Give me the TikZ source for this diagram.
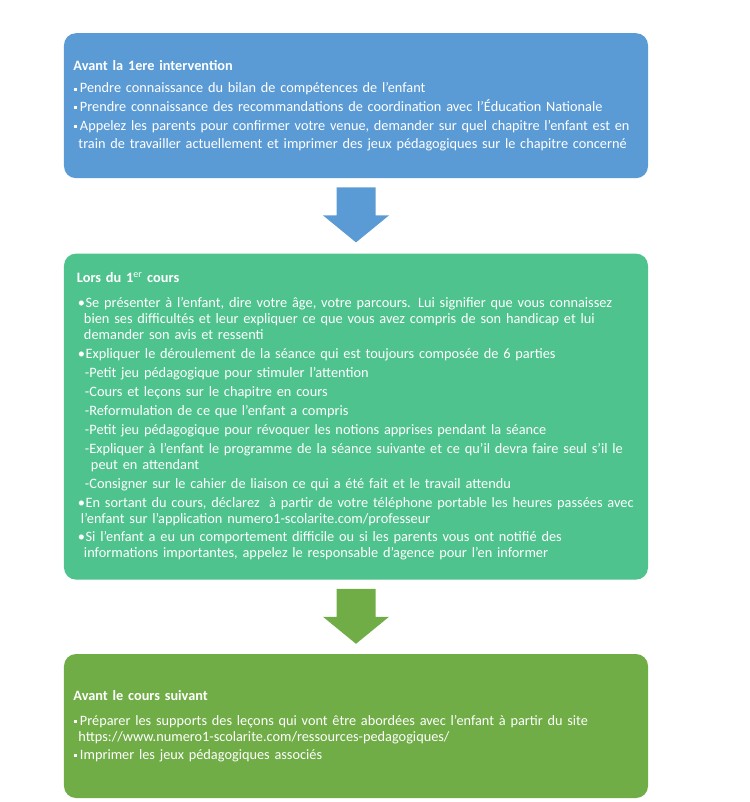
\documentclass[tikz,border=0pt]{standalone}
\usepackage{fontspec}
\setmainfont{Carlito}
\usetikzlibrary{calc,positioning}
\definecolor{bleu}{HTML}{5B9BD5}
\definecolor{vert}{HTML}{4FC38E}
\definecolor{olive}{HTML}{70AD47}
\newcommand{\carre}{\raisebox{2.4bp}{\rule{3bp}{3bp}}}
\newcommand{\pcarre}[1]{\par\hangindent=5bp\hangafter=1\noindent\hspace*{1bp}\carre\hspace{2.5bp}#1\par}
\newcommand{\ppuce}[2][7bp]{\par\hangindent=#1\hangafter=1\noindent\hspace*{1bp}•\hspace{0.5bp}#2\par}
\newcommand{\ptiret}[1]{\par\hangindent=14bp\hangafter=1\noindent\hspace*{8bp}-#1\par}
\tikzset{
 etape/.style={rounded corners=12bp, text=white, minimum width=584bp,
  inner ysep=0bp, align=left},
}
\begin{document}
\begin{tikzpicture}[x=1bp,y=-1bp]
 \useasboundingbox (0,0) rectangle (750,802);
 \node[etape, fill=bleu, anchor=north, minimum height=145bp,
  text width=565bp, inner xsep=9.5bp,
  font=\fontsize{14.3bp}{17.8bp}\selectfont] (avant) at (356,33) {%
  {\bfseries Avant la 1ere intervention}\par\vspace{3.5bp}
  \setlength{\parskip}{1bp}%
  \pcarre{Pendre connaissance du bilan de compétences de l’enfant}
  \pcarre{Prendre connaissance des recommandations de coordination avec l’Éducation Nationale}
  \pcarre{Appelez les parents pour confirmer votre venue, demander sur quel chapitre l'enfant est en\break
  train de travailler actuellement et imprimer des jeux pédagogiques sur le chapitre concerné}};
 \node[etape, fill=vert, minimum height=326bp, below=75bp of avant,
  text width=558bp, inner xsep=13bp,
  font=\fontsize{14.35bp}{16bp}\selectfont] (lors) {%
  {\bfseries Lors du 1\textsuperscript{\mdseries er} cours}\par\vspace{6bp}
  \setlength{\parskip}{2.9bp}%
  \ppuce{Se présenter à l’enfant, dire votre âge, votre parcours. Lui signifier que vous connaissez\break
  bien ses difficultés et leur expliquer ce que vous avez compris de son handicap et lui\break
  demander son avis et ressenti}
  \ppuce{Expliquer le déroulement de la séance qui est toujours composée de 6 parties}
  \ptiret{Petit jeu pédagogique pour stimuler l’attention}
  \ptiret{Cours et leçons sur le chapitre en cours}
  \ptiret{Reformulation de ce que l’enfant a compris}
  \ptiret{Petit jeu pédagogique pour révoquer les notions apprises pendant la séance}
  \ptiret{Expliquer à l'enfant le programme de la séance suivante et ce qu'il devra faire seul s'il le\break
  peut en attendant}
  \ptiret{Consigner sur le cahier de liaison ce qui a été fait et le travail attendu}
  \ppuce[4bp]{En sortant du cours, déclarez\ \ à partir de votre téléphone portable les heures passées avec\break
  l’enfant sur l’application numero1-scolarite.com/professeur}
  \ppuce{Si l'enfant a eu un comportement difficile ou si les parents vous ont notifié des\break
  informations importantes, appelez le responsable d'agence pour l'en informer}};
 \node[etape, fill=olive, minimum height=144bp, below=74bp of lors,
  text width=565bp, inner xsep=9.5bp,
  font=\fontsize{14.3bp}{16bp}\selectfont] (suivant) {%
  {\bfseries Avant le cours suivant}\par\vspace{6.5bp}
  \setlength{\parskip}{2.3bp}%
  \pcarre{Préparer les supports des leçons qui vont être abordées avec l’enfant à partir du site\break
  https://www.numero1-scolarite.com/ressources-pedagogiques/}
  \pcarre{Imprimer les jeux pédagogiques associés}};
 % fleches entre les etapes
 \foreach \n/\c in {avant/bleu, lors/olive} {
  \fill[\c] ($(\n.south)+(-19.5,9)$) -- ++(39,0) -- ++(0,28) -- ++(13.5,0)
   -- ($(\n.south)+(0,64)$) -- ($(\n.south)+(-33,37)$) -- ++(13.5,0) -- cycle;
 }
\end{tikzpicture}
\end{document}
